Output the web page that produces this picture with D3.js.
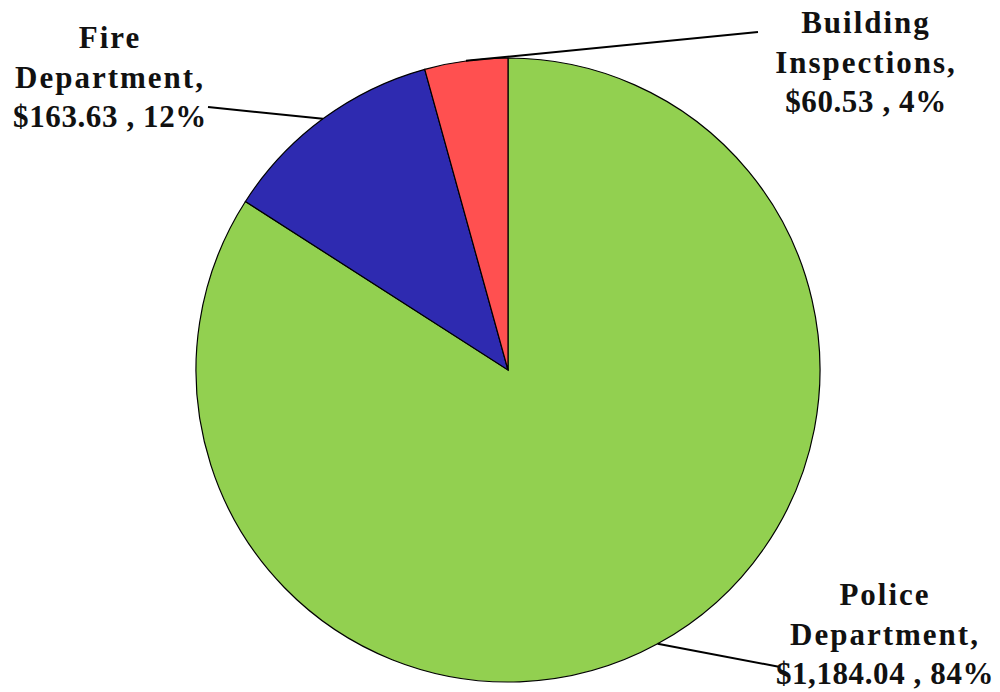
<!DOCTYPE html>
<html>
<head>
<meta charset="utf-8">
<script src="https://cdn.jsdelivr.net/npm/d3@7"></script>
<style>
  body { margin: 0; background: #fff; }
  text { font-family: "Liberation Serif", "Times New Roman", serif; font-weight: bold; fill: #111; }
</style>
</head>
<body>
<svg id="chart" width="1000" height="692"></svg>
<script>
// chart data
const categories = ["Police Department", "Fire Department", "Building Inspections"];
const amounts = [1184.04, 163.63, 60.53];
const percents = ["84%", "12%", "4%"];
const colors = ["#92D050", "#2E2AB0", "#FF5050"];

const WIDTH = 1000;
const HEIGHT = 692;
const cx = 508;
const cy = 370;
const radius = 312;

// where each label block sits (centre x, first baseline y) and where its leader line ends
const labelPos = [
  { x: 885, y: 605, lx: 780, ly: 667 },
  { x: 110, y: 48, lx: 208, ly: 107 },
  { x: 866, y: 33, lx: 758, ly: 32 }
];

const svg = d3.select("#chart");

const data = categories.map((c, i) => ({
  name: c,
  value: amounts[i],
  pct: percents[i],
  color: colors[i]
}));

const pie = d3.pie()
  .sort(null)
  .value((d) => d.value)
  .startAngle(0)
  .endAngle(2 * Math.PI);

const arc = d3.arc().innerRadius(0).outerRadius(radius);

const g = svg.append("g").attr("transform", `translate(${cx},${cy})`);

const arcs = pie(data);

g.selectAll("path")
  .data(arcs)
  .enter()
  .append("path")
  .attr("d", arc)
  .attr("fill", (d) => d.data.color)
  .attr("stroke", "#000")
  .attr("stroke-width", 1.2);

// leader lines from the middle of each slice edge
const fmt = d3.format(",.2f");

arcs.forEach((d, i) => {
  const mid = (d.startAngle + d.endAngle) / 2;
  const px = cx + radius * Math.sin(mid);
  const py = cy - radius * Math.cos(mid);
  const lp = labelPos[i];

  svg.append("line")
    .attr("x1", px)
    .attr("y1", py)
    .attr("x2", lp.lx)
    .attr("y2", lp.ly)
    .attr("stroke", "#000")
    .attr("stroke-width", 2);

  const words = d.data.name.split(" ");
  const lines = [words[0], words[1] + ",", "$" + fmt(d.data.value) + " , " + d.data.pct];

  const t = svg.append("text")
    .attr("text-anchor", "middle")
    .attr("font-size", 31);

  lines.forEach((s, k) => {
    t.append("tspan")
      .attr("x", lp.x)
      .attr("y", lp.y + k * 39.5)
      .attr("letter-spacing", k < 2 ? 2 : 0.6)
      .text(s);
  });
});
</script>
</body>
</html>
